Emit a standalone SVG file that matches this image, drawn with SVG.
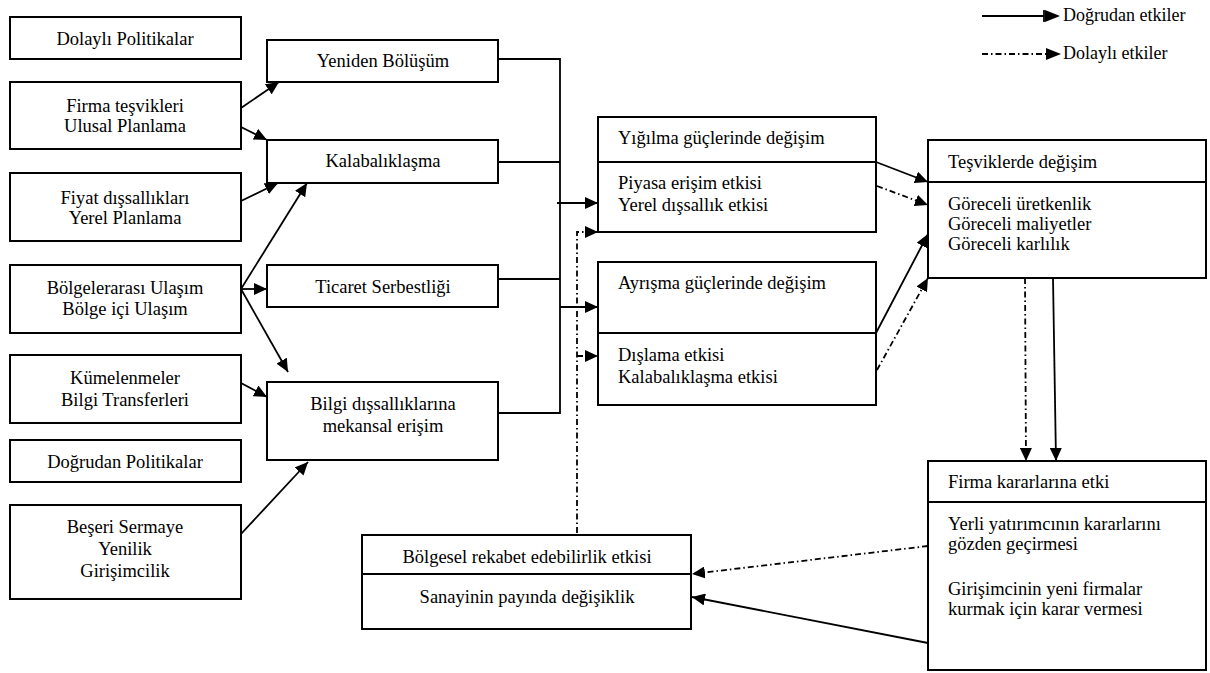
<svg xmlns="http://www.w3.org/2000/svg" width="1210" height="673" viewBox="0 0 1210 673">
<style>
.box{fill:#fff;stroke:#000;stroke-width:2}
.div{stroke:#000;stroke-width:2}
.t{font-family:"Liberation Serif","Times New Roman",serif;font-size:18.5px;fill:#000}
.lg{font-size:18px}
.c{text-anchor:middle}
.ln{fill:none;stroke:#000;stroke-width:1.8}
.dd{fill:none;stroke:#000;stroke-width:1.8;stroke-dasharray:6,3,1.5,3}
</style>
<defs>
<marker id="ah" markerUnits="userSpaceOnUse" markerWidth="14" markerHeight="12" refX="13" refY="6" orient="auto">
<path d="M0,0 L13,6 L0,12 z" fill="#000"/>
</marker>
</defs>
<rect width="1210" height="673" fill="#fff"/>

<g id="legend">
<line class="ln" x1="982" y1="16" x2="1044" y2="16"/>
<line class="ln" x1="1044" y1="10" x2="1044" y2="22"/>
<polygon points="1045,10 1060,16 1045,22" fill="#000"/>
<text class="t lg" x="1063" y="21">Doğrudan etkiler</text>
<line class="dd" x1="982" y1="54" x2="1046" y2="54"/>
<polygon points="1046,48 1061,54 1046,60" fill="#000"/>
<text class="t lg" x="1063" y="59">Dolaylı etkiler</text>
</g>

<g id="n-dolayli"><rect class="box" x="10" y="17" width="231" height="42"/><text class="t c" x="125" y="45">Dolaylı Politikalar</text></g>
<g id="n-firma"><rect class="box" x="10" y="82" width="231" height="67"/><text class="t c" x="125" y="112">Firma teşvikleri</text><text class="t c" x="125" y="132">Ulusal Planlama</text></g>
<g id="n-fiyat"><rect class="box" x="10" y="173" width="231" height="68"/><text class="t c" x="125" y="204">Fiyat dışsallıkları</text><text class="t c" x="125" y="224">Yerel Planlama</text></g>
<g id="n-bolgeler"><rect class="box" x="10" y="265" width="231" height="68"/><text class="t c" x="125" y="294">Bölgelerarası Ulaşım</text><text class="t c" x="125" y="315">Bölge içi Ulaşım</text></g>
<g id="n-kume"><rect class="box" x="10" y="355" width="231" height="68"/><text class="t c" x="125" y="384">Kümelenmeler</text><text class="t c" x="125" y="406">Bilgi Transferleri</text></g>
<g id="n-dogrudan"><rect class="box" x="10" y="440" width="231" height="42"/><text class="t c" x="125" y="468">Doğrudan Politikalar</text></g>
<g id="n-beseri"><rect class="box" x="10" y="505" width="231" height="94"/><text class="t c" x="125" y="533">Beşeri Sermaye</text><text class="t c" x="125" y="555">Yenilik</text><text class="t c" x="125" y="577">Girişimcilik</text></g>

<g id="n-yeniden"><rect class="box" x="267" y="40" width="231" height="42"/><text class="t c" x="383" y="67">Yeniden Bölüşüm</text></g>
<g id="n-kalab"><rect class="box" x="267" y="140" width="231" height="43"/><text class="t c" x="383" y="167">Kalabalıklaşma</text></g>
<g id="n-ticaret"><rect class="box" x="267" y="265" width="231" height="42"/><text class="t c" x="383" y="293">Ticaret Serbestliği</text></g>
<g id="n-bilgi"><rect class="box" x="267" y="382" width="231" height="78"/><text class="t c" x="383" y="410">Bilgi dışsallıklarına</text><text class="t c" x="383" y="432">mekansal erişim</text></g>

<g id="n-yigilma"><rect class="box" x="598" y="117" width="278" height="115"/><line class="div" x1="598" y1="162" x2="876" y2="162"/><text class="t" x="618" y="144">Yığılma güçlerinde değişim</text><text class="t" x="618" y="189">Piyasa erişim etkisi</text><text class="t" x="618" y="211">Yerel dışsallık etkisi</text></g>
<g id="n-ayrisma"><rect class="box" x="598" y="262" width="278" height="143"/><line class="div" x1="598" y1="333" x2="876" y2="333"/><text class="t" x="618" y="289">Ayrışma güçlerinde değişim</text><text class="t" x="618" y="361">Dışlama etkisi</text><text class="t" x="618" y="383">Kalabalıklaşma etkisi</text></g>

<g id="n-tesvik"><rect class="box" x="928" y="140" width="278" height="138"/><line class="div" x1="928" y1="182" x2="1206" y2="182"/><text class="t" x="948" y="168">Teşviklerde değişim</text><text class="t" x="948" y="210">Göreceli üretkenlik</text><text class="t" x="948" y="230">Göreceli maliyetler</text><text class="t" x="948" y="250">Göreceli karlılık</text></g>
<g id="n-firmakarar"><rect class="box" x="928" y="461" width="278" height="209"/><line class="div" x1="928" y1="502" x2="1206" y2="502"/><text class="t" x="948" y="488">Firma kararlarına etki</text><text class="t" x="948" y="530">Yerli yatırımcının kararlarını</text><text class="t" x="948" y="550">gözden geçirmesi</text><text class="t" x="948" y="595">Girişimcinin yeni firmalar</text><text class="t" x="948" y="615">kurmak için karar vermesi</text></g>
<g id="n-bolgesel"><rect class="box" x="362" y="535" width="329" height="94"/><line class="div" x1="362" y1="574" x2="691" y2="574"/><text class="t c" x="527" y="563">Bölgesel rekabet edebilirlik etkisi</text><text class="t c" x="527" y="603">Sanayinin payında değişiklik</text></g>

<g id="connectors">
<line class="ln" x1="241" y1="108" x2="279" y2="82" marker-end="url(#ah)"/>
<line class="ln" x1="241" y1="127" x2="267" y2="140" marker-end="url(#ah)"/>
<line class="ln" x1="241" y1="201" x2="278" y2="183" marker-end="url(#ah)"/>
<line class="ln" x1="241" y1="289" x2="307" y2="183" marker-end="url(#ah)"/>
<line class="ln" x1="241" y1="289" x2="267" y2="289" marker-end="url(#ah)"/>
<line class="ln" x1="241" y1="289" x2="288" y2="372" marker-end="url(#ah)"/>
<line class="ln" x1="241" y1="383" x2="267" y2="397" marker-end="url(#ah)"/>
<line class="ln" x1="241" y1="534" x2="308" y2="462" marker-end="url(#ah)"/>

<polyline class="ln" points="498,59 560,59 560,413 498,413"/>
<line class="ln" x1="498" y1="162" x2="560" y2="162"/>
<line class="ln" x1="498" y1="279" x2="560" y2="279"/>
<line class="ln" x1="557" y1="203" x2="598" y2="203" marker-end="url(#ah)"/>
<line class="ln" x1="560" y1="307" x2="598" y2="307" marker-end="url(#ah)"/>

<polyline class="dd" points="577,533 577,232 598,232" marker-end="url(#ah)"/>
<line class="dd" x1="577" y1="356" x2="598" y2="356" marker-end="url(#ah)"/>

<line class="ln" x1="876" y1="162" x2="928" y2="182" marker-end="url(#ah)"/>
<line class="dd" x1="877" y1="186" x2="928" y2="205" marker-end="url(#ah)"/>
<line class="ln" x1="876" y1="333" x2="928" y2="234" marker-end="url(#ah)"/>
<line class="dd" x1="877" y1="370" x2="928" y2="278" marker-end="url(#ah)"/>

<line class="dd" x1="1025" y1="278" x2="1026" y2="461" marker-end="url(#ah)"/>
<line class="ln" x1="1053" y1="278" x2="1056" y2="461" marker-end="url(#ah)"/>

<line class="dd" x1="928" y1="546" x2="692" y2="574" marker-end="url(#ah)"/>
<line class="ln" x1="928" y1="643" x2="692" y2="597" marker-end="url(#ah)"/>
</g>
</svg>
